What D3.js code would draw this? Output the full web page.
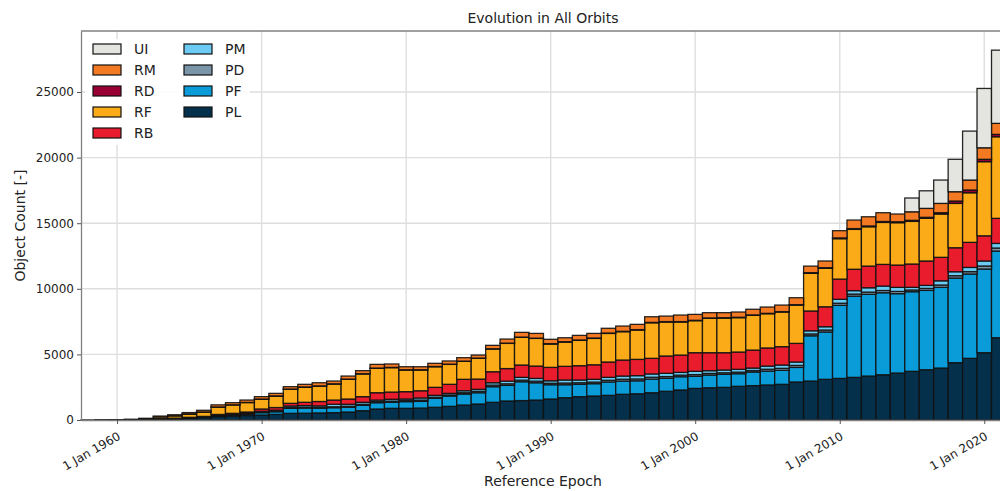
<!DOCTYPE html>
<html lang="en">
<head>
<meta charset="utf-8">
<title>Evolution in All Orbits</title>
<script src="https://d3js.org/d3.v7.min.js"></script>
<style>
  body { margin: 0; background: #fff; }
  text { font-family: "DejaVu Sans", sans-serif; fill: #222; }
</style>
</head>
<body>
<div id="chart"></div>
<script>
// years 1958 .. 2021
var years = d3.range(1958, 2022);

var PL = [2,5,10,20,40,80,100,140,180,260, 300,340,380,430,510,520,540,560,610,710, 840,890,890,910,970,1040,1140,1220,1350,1450, 1480,1520,1600,1700,1780,1830,1880,1960,2000,2080, 2190,2290,2410,2460,2490,2570,2620,2670,2720,2900, 2970,3100,3170,3250,3350,3450,3580,3710,3830,3960, 4370,4700,5130,6270];
var PF = [0,0,0,0,5,10,15,20,30,50, 70,100,180,200,380,390,360,380,360,410, 480,460,510,510,680,790,840,860,1190,1190, 1440,1320,1090,990,940,940,1020,1010,990,1040, 990,1010,920,970,990,960,1040,1060,1070,1110, 3450,3610,5570,6190,6230,6250,6050,6070,6050,6150, 6450,6430,6380,6610];
var PD = [0,0,0,0,0,0,0,5,10,15, 20,30,40,50,60,60,60,70,80,80, 80,90,80,100,90,80,100,110,120,120, 120,120,110,130,120,120,130,140,140,140, 130,120,130,120,120,120,110,140,150,150, 140,150,160,160,170,170,170,130,150,180, 180,180,230,230];
var PM = [0,0,0,0,0,0,5,10,15,30, 30,40,60,70,120,130,120,190,150,150, 120,140,120,160,140,120,150,150,180,200, 210,210,190,230,210,210,220,240,250,250, 250,210,250,210,210,210,190,240,250,260, 240,250,300,260,330,340,310,200,230,320, 300,320,380,350];
var RB = [0,0,0,0,5,15,20,30,40,70, 90,100,180,200,200,250,330,320,400,430, 560,550,560,550,610,690,870,780,840,960, 940,940,1020,1040,1090,1110,1170,1220,1240,1190, 1320,1320,1420,1370,1320,1320,1370,1380,1400,1420, 1510,1520,1540,1630,1650,1650,1700,1780,1860,1790, 1830,1910,1920,1910];
var RF = [0,3,10,20,50,130,180,250,330,560, 640,720,740,870,1070,1150,1170,1220,1500,1730, 1860,1860,1650,1580,1570,1520,1370,1580,1730,1920, 2110,2110,1780,1850,1930,2010,2180,2160,2240,2710, 2590,2520,2440,2620,2640,2620,2650,2610,2640,2920, 2870,2930,3080,3040,3000,3200,3230,3250,3250,3300, 3380,3780,5650,6220];
var RD = [0,0,0,0,0,0,5,5,10,10, 10,10,20,20,20,20,20,20,20,20, 20,20,20,20,20,20,20,20,20,20, 20,20,30,30,30,30,30,30,30,30, 30,30,30,30,30,30,30,30,30,30, 50,50,60,60,60,70,70,80,80,100, 180,210,180,180];
var RM = [0,0,0,10,30,65,75,105,125,160, 160,180,180,190,180,200,240,210,230,230, 280,260,230,230,240,240,260,230,260,310, 360,360,330,300,350,350,360,400,400,430, 420,500,450,400,380,400,430,480,500,530, 500,510,550,650,700,670,590,650,680,710, 710,760,880,840];
var UI = [0,0,0,0,0,0,0,0,0,0, 0,0,0,0,0,0,0,0,0,0, 0,0,0,0,0,0,0,0,0,0, 0,0,0,0,0,0,0,0,0,0, 0,0,0,0,0,0,0,0,0,0, 0,0,0,0,0,0,0,1050,1340,1780, 2470,3730,4520,5580];

var keys = ["PL", "PF", "PD", "PM", "RB", "RF", "RD", "RM", "UI"];
var series = {PL: PL, PF: PF, PD: PD, PM: PM, RB: RB, RF: RF, RD: RD, RM: RM, UI: UI};
var colors = {PL: "#04304b", PF: "#0a9cd8", PD: "#7b95a8", PM: "#6bcbf2", RB: "#e91c2e",
              RF: "#fbab18", RD: "#990033", RM: "#f37a22", UI: "#e4e4e0"};
var legendOrder = ["UI", "RM", "RD", "RF", "RB", "PM", "PD", "PF", "PL"];
var yTicks = [0, 5000, 10000, 15000, 20000, 25000];
var xTickYears = [1960, 1970, 1980, 1990, 2000, 2010, 2020];

var table = years.map(function(y, i) {
  var row = {year: y};
  keys.forEach(function(k) { row[k] = series[k][i]; });
  return row;
});

var W = 1000, H = 491;
var margin = {left: 81, top: 31, right: -5, bottom: 71};
var width = W - margin.left - margin.right;
var height = H - margin.top - margin.bottom;

var svg = d3.select("#chart").append("svg")
  .attr("width", W).attr("height", H);
var g = svg.append("g").attr("transform", "translate(" + margin.left + "," + margin.top + ")");

function yr(y, m, d) { return new Date(Date.UTC(y, m || 0, d || 1)); }

var x = d3.scaleUtc()
  .domain([yr(1957, 6, 3), yr(2021, 5, 8)])
  .range([0, width]);
var y = d3.scaleLinear().domain([0, 29650]).range([height, 0]);

// grid
g.append("g").selectAll("line").data(xTickYears).enter().append("line")
  .attr("x1", function(d) { return x(yr(d)); }).attr("x2", function(d) { return x(yr(d)); })
  .attr("y1", 0).attr("y2", height)
  .attr("stroke", "#dedede").attr("stroke-width", 1.4);
g.append("g").selectAll("line").data(yTicks).enter().append("line")
  .attr("x1", 0).attr("x2", width)
  .attr("y1", function(d) { return y(d); }).attr("y2", function(d) { return y(d); })
  .attr("stroke", "#dedede").attr("stroke-width", 1.4);

var stack = d3.stack().keys(keys)(table);

g.append("g").selectAll("g").data(stack).enter().append("g")
  .attr("fill", function(d) { return colors[d.key]; })
  .selectAll("rect").data(function(d) { return d; }).enter().append("rect")
    .attr("x", function(d) { return x(yr(d.data.year - 1, 6, 2)); })
    .attr("width", function(d) { return x(yr(d.data.year, 6, 2)) - x(yr(d.data.year - 1, 6, 2)); })
    .attr("y", function(d) { return y(d[1]); })
    .attr("height", function(d) { return y(d[0]) - y(d[1]); })
    .attr("stroke", "#111")
    .attr("stroke-opacity", 0.9)
    .attr("stroke-width", 1.3);

// axes
var xAxis = d3.axisBottom(x)
  .tickValues(xTickYears.map(function(d) { return yr(d); }))
  .tickFormat(d3.utcFormat("%-d %b %Y"))
  .tickSize(4).tickSizeOuter(0);
var gx = g.append("g").attr("transform", "translate(0," + height + ")").call(xAxis);
gx.selectAll("text")
  .attr("font-size", 12)
  .attr("text-anchor", "end")
  .attr("y", 6)
  .attr("dx", "-0.5em").attr("dy", "1.0em")
  .attr("transform", "rotate(-30)");

var yAxis = d3.axisLeft(y).tickValues(yTicks).tickFormat(d3.format("d"))
  .tickSize(4).tickSizeOuter(0);
var gy = g.append("g").call(yAxis);
gy.selectAll("text").attr("font-size", 12);

[gx, gy].forEach(function(a) {
  a.select(".domain").attr("stroke", "#808080").attr("stroke-width", 1.3);
  a.selectAll(".tick line").attr("stroke", "#555");
  a.selectAll(".tick text").style("fill", "#222").attr("font-family", "DejaVu Sans, sans-serif");
});
g.append("line").attr("x1", 0).attr("x2", width).attr("y1", 0).attr("y2", 0)
  .attr("stroke", "#808080").attr("stroke-width", 1.3);

// legend
var leg = g.append("g").attr("transform", "translate(4,8)");
leg.append("rect").attr("x", 0).attr("y", 0).attr("width", 165).attr("height", 106)
  .attr("fill", "#fff").attr("fill-opacity", 0.85);
legendOrder.forEach(function(k, i) {
  var col = i < 5 ? 0 : 1, row = i < 5 ? i : i - 5;
  var e = leg.append("g").attr("transform", "translate(" + (8 + col * 91) + "," + (5 + row * 21) + ")");
  e.append("rect").attr("width", 28).attr("height", 10)
    .attr("fill", colors[k]).attr("stroke", "#111").attr("stroke-width", 1.2);
  e.append("text").attr("x", 41).attr("y", 5).attr("dy", "0.36em")
    .attr("font-size", 14).text(k);
});

// labels
svg.append("text").attr("x", margin.left + width / 2).attr("y", 23)
  .attr("text-anchor", "middle").attr("font-size", 14).text("Evolution in All Orbits");
svg.append("text").attr("x", margin.left + width / 2).attr("y", 486)
  .attr("text-anchor", "middle").attr("font-size", 14).text("Reference Epoch");
svg.append("text").attr("transform", "translate(25," + (margin.top + height / 2) + ") rotate(-90)")
  .attr("text-anchor", "middle").attr("font-size", 14).text("Object Count [-]");
</script>
</body>
</html>
